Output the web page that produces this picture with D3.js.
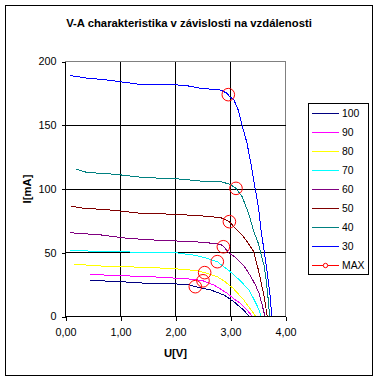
<!DOCTYPE html>
<html><head><meta charset="utf-8">
<script src="https://cdn.jsdelivr.net/npm/d3@7/dist/d3.min.js"></script>
<style>
html,body{margin:0;padding:0;background:#fff;}
text{font-family:"Liberation Sans",Arial,sans-serif;}
</style></head>
<body>
<script>
// ---- data ----
const seriesNames = ["100","90","80","70","60","50","40","30"];
const seriesColors = ["#000080","#FF00FF","#FFFF00","#00FFFF","#800080","#800000","#008080","#0000FF"];

const u100 = [0.45,0.64,1.00,1.49,2.03,2.27,2.36,2.64,2.88,3.06,3.24,3.34];
const i100 = [28.6,28,27.3,26,25.5,24.7,23.4,20.8,16.9,11.6,5,0];

const u90 = [0.44,1.00,1.55,2.03,2.33,2.50,2.70,2.94,3.09,3.18,3.30,3.40];
const i90 = [33,32,31.2,30,29.2,28,24.7,18.2,13,10.4,5,0];

const u80 = [0.15,0.64,1.12,1.61,2.03,2.39,2.53,2.76,2.91,3.05,3.24,3.36,3.46];
const i80 = [41,39.6,39,38.3,37.3,36,34.4,31.2,27,22,13,6,0];

const u70 = [0.09,0.70,1.36,2.00,2.33,2.51,2.76,3.00,3.18,3.33,3.42,3.50,3.56];
const i70 = [52,50.8,50.5,50,48.2,46.4,43,35,28,21,14,7,0];

const u60 = [0.08,0.64,1.12,1.61,2.03,2.51,2.82,2.87,2.97,3.10,3.24,3.36,3.45,3.52,3.57,3.61,3.62];
const i60 = [65.7,64,61.3,60,59.2,58.2,56.6,55,50,46,40,32,25,18,10,3,0];

const u50 = [0.09,0.33,0.70,1.00,1.36,1.97,2.51,2.82,2.91,2.98,3.09,3.21,3.33,3.42,3.51,3.57,3.62,3.65,3.67];
const i50 = [86.7,84.8,84,82.7,81,80.2,78.8,77.5,76,74.4,69,64,57,51,36,24,14,5,0];

const u40 = [0.20,0.39,0.91,1.42,2.03,2.51,2.82,2.97,3.05,3.10,3.21,3.33,3.42,3.51,3.56,3.61,3.65,3.68,3.70,3.72];
const i40 = [115.4,113,111.5,109,108,106,105.7,104,102,100.5,94,81,67,57,48,40,28,16,6,0];

const u30 = [0.08,0.39,0.76,1.36,2.15,2.45,2.82,2.94,2.97,3.06,3.14,3.21,3.30,3.37,3.45,3.51,3.56,3.61,3.67,3.72,3.75];
const i30 = [189,187,185.5,182,181.5,179,177.6,175,173,170,162,150,136,120,100,85,66,52,34,16,0];

const uMax = [2.96,3.10,2.98,2.87,2.76,2.53,2.50,2.36];
const iMax = [174,100.5,74.4,54.7,43,34.4,28,23.4];

const xTicks = [0,1,2,3,4];
const yTicks = [0,50,100,150,200];

const titleText = "V-A charakteristika v závislosti na vzdálenosti";
const xTitle = "U[V]";
const yTitle = "I[mA]";
const maxName = "MAX";

const seriesU = [u100,u90,u80,u70,u60,u50,u40,u30];
const seriesI = [i100,i90,i80,i70,i60,i50,i40,i30];

// ---- drawing ----
const W = 378, H = 380;
const svg = d3.select("body").append("svg").attr("width",W).attr("height",H);

svg.append("rect").attr("x",5.5).attr("y",5.5).attr("width",367).attr("height",370)
  .attr("fill","#fff").attr("stroke","#000").attr("stroke-width",1);

const x = d3.scaleLinear().domain([0,4]).range([65.5,285.5]);
const y = d3.scaleLinear().domain([0,200]).range([316.5,61.5]);

const g = svg.append("g");

// plot border (gray)
g.append("rect").attr("x",x(0)).attr("y",y(200)).attr("width",x(4)-x(0)).attr("height",y(0)-y(200))
  .attr("fill","#fff").attr("stroke","#808080").attr("stroke-width",1).attr("shape-rendering","crispEdges");

// gridlines
g.selectAll(".gx").data(xTicks.filter(d=>d>0&&d<4)).join("line")
  .attr("x1",d=>x(d)).attr("x2",d=>x(d)).attr("y1",y(0)).attr("y2",y(200))
  .attr("stroke","#000").attr("shape-rendering","crispEdges");
g.selectAll(".gy").data(yTicks.filter(d=>d>0&&d<200)).join("line")
  .attr("y1",d=>y(d)).attr("y2",d=>y(d)).attr("x1",x(0)).attr("x2",x(4))
  .attr("stroke","#000").attr("shape-rendering","crispEdges");

// series lines
const line = d3.line().x(d=>x(d[0])).y(d=>y(d[1]));
seriesNames.forEach((n,k)=>{
  const pts = seriesU[k].map((u,j)=>[u,seriesI[k][j]]);
  g.append("path").datum(pts).attr("d",line).attr("fill","none")
    .attr("stroke",seriesColors[k]).attr("stroke-width",1).attr("shape-rendering","crispEdges");
});

// MAX markers
g.selectAll(".mx").data(uMax.map((u,j)=>[u,iMax[j]])).join("circle")
  .attr("cx",d=>x(d[0])).attr("cy",d=>y(d[1])).attr("r",6.3)
  .attr("fill","none").attr("stroke","#FF0000").attr("stroke-width",1);

// axes
const fmtX = d=>d.toFixed(2).replace(".",",");
const ax = g.append("g").attr("transform",`translate(0,${y(0)})`)
  .call(d3.axisBottom(x).tickValues(xTicks).tickSize(4).tickPadding(8).tickFormat(fmtX));
const ay = g.append("g").attr("transform",`translate(${x(0)},0)`)
  .call(d3.axisLeft(y).tickValues(yTicks).tickSize(4).tickPadding(5).tickFormat(d3.format("d")));
[ax,ay].forEach(a=>{
  a.select(".domain").attr("stroke","#000").attr("shape-rendering","crispEdges");
  a.selectAll(".tick line").attr("stroke","#000").attr("shape-rendering","crispEdges");
  a.selectAll("text").attr("font-family","'Liberation Sans',Arial,sans-serif")
    .attr("font-size","10.8px").attr("fill","#000");
});
ax.select(".domain").attr("d",`M${x(0)},0H${x(4)}`);
ay.select(".domain").attr("d",`M0,${y(0)}V${y(200)}`);

// titles
svg.append("text").attr("x",189).attr("y",27).attr("text-anchor","middle")
  .attr("font-size","11.3px").attr("font-weight","bold").text(titleText);
svg.append("text").attr("x",175.5).attr("y",357).attr("text-anchor","middle")
  .attr("font-size","11.3px").attr("font-weight","bold").text(xTitle);
svg.append("text").attr("transform","translate(31,189) rotate(-90)").attr("text-anchor","middle")
  .attr("font-size","11.3px").attr("font-weight","bold").text(yTitle);

// legend
const lg = svg.append("g");
lg.append("rect").attr("x",308.5).attr("y",103.5).attr("width",60).attr("height",171)
  .attr("fill","#fff").attr("stroke","#000").attr("shape-rendering","crispEdges");
const legItems = seriesNames.map((n,k)=>({name:n,color:seriesColors[k],marker:false}))
  .concat([{name:maxName,color:"#FF0000",marker:true}]);
legItems.forEach((it,k)=>{
  const cy = 113.5 + 19*k;
  lg.append("line").attr("x1",312).attr("x2",339).attr("y1",cy).attr("y2",cy)
    .attr("stroke",it.color).attr("shape-rendering","crispEdges");
  if(it.marker){
    lg.append("circle").attr("cx",325.5).attr("cy",cy).attr("r",2.2)
      .attr("fill","#fff").attr("stroke",it.color);
  }
  lg.append("text").attr("x",342).attr("y",cy+3.8).attr("font-size","10.4px").text(it.name);
});
</script>
</body></html>
